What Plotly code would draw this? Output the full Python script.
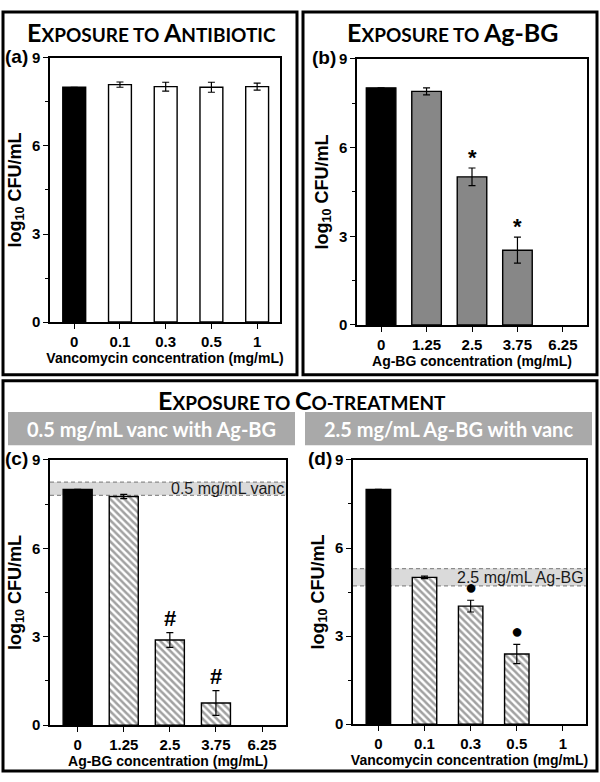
import plotly.graph_objects as go

W, H = 600, 782

# ---- data ----
a_labels = ["0", "0.1", "0.3", "0.5", "1"]
a_vals = [8.0, 8.09, 8.02, 8.0, 8.02]
a_err = [0.0, 0.09, 0.15, 0.17, 0.12]

b_labels = ["0", "1.25", "2.5", "3.75", "6.25"]
b_vals = [8.02, 7.9, 5.01, 2.53, None]
b_err = [0.0, 0.12, 0.3, 0.44, None]
b_marks = ["", "", "*", "*", ""]

c_labels = ["0", "1.25", "2.5", "3.75", "6.25"]
c_vals = [8.0, 7.76, 2.89, 0.75, None]
c_err = [0.0, 0.07, 0.25, 0.42, None]
c_marks = ["", "", "#", "#", ""]
c_band = [7.8, 8.25]
c_band_label = "0.5 mg/mL vanc"

d_labels = ["0", "0.1", "0.3", "0.5", "1"]
d_vals = [8.0, 5.0, 4.02, 2.39, None]
d_err = [0.0, 0.04, 0.2, 0.33, None]
d_marks = ["", "", "●", "●", ""]
d_band = [4.71, 5.3]
d_band_label = "2.5 mg/mL Ag-BG"

y_ticks = [0, 3, 6, 9]

AX_FONT = "Liberation Sans, Arial, sans-serif"
TITLE_FONT = "Lato, Open Sans, sans-serif"


def px_x(v):
    return v / W


def px_y(v):
    return 1 - v / H


def small_caps(parts):
    # fake small caps: big letters at 25px, the rest at 19px
    out = ""
    for text, big in parts:
        size = 25 if big else 19
        out += f"<span style='font-size:{size}px'>{text}</span>"
    return out


fig = go.Figure()

panels = [
    dict(n=1, labels=a_labels, vals=a_vals, errs=a_err, marks=None,
         face="white", hatch=False, xd=[50, 280], yd=[320, 50], xr=[-0.53, 4.5], bw=0.5,
         xtitle="Vancomycin concentration (mg/mL)", tag="(a)"),
    dict(n=2, labels=b_labels, vals=b_vals, errs=b_err, marks=b_marks,
         face="#878787", hatch=False, xd=[357, 587], yd=[323, 51], xr=[-0.53, 4.53], bw=0.65,
         xtitle="Ag-BG concentration (mg/mL)", tag="(b)"),
    dict(n=3, labels=c_labels, vals=c_vals, errs=c_err, marks=c_marks,
         face="white", hatch=True, xd=[50, 286], yd=[732, 461], xr=[-0.6, 4.52], bw=0.63,
         xtitle="Ag-BG concentration (mg/mL)", tag="(c)", band=c_band, band_label=c_band_label),
    dict(n=4, labels=d_labels, vals=d_vals, errs=d_err, marks=d_marks,
         face="white", hatch=True, xd=[353, 586], yd=[731, 461], xr=[-0.55, 4.5], bw=0.53,
         xtitle="Vancomycin concentration (mg/mL)", tag="(d)", band=d_band, band_label=d_band_label),
]

annotations = []
shapes = []

for p in panels:
    n = p["n"]
    xa = "x" if n == 1 else f"x{n}"
    ya = "y" if n == 1 else f"y{n}"
    k = len(p["labels"])
    colors = ["black"] + [p["face"]] * (k - 1)
    pat = [""] + (["\\"] * (k - 1) if p["hatch"] else [""] * (k - 1))

    # reference band drawn under the bars
    if "band" in p:
        lo, hi = p["band"]
        shapes.append(dict(type="rect", xref=f"{xa} domain", yref=ya, x0=0, x1=1, y0=lo, y1=hi,
                           fillcolor="#dadada", line=dict(width=0), layer="below"))
        for yv in (lo, hi):
            shapes.append(dict(type="line", xref=f"{xa} domain", yref=ya, x0=0, x1=1, y0=yv, y1=yv,
                               line=dict(color="#8c8c8c", width=1.2, dash="4px,3px"), layer="below"))
        annotations.append(dict(xref=f"{xa} domain", yref=ya, x=1, y=(lo + hi) / 2,
                                text=p["band_label"], showarrow=False, xanchor="right", yanchor="middle",
                                font=dict(family=AX_FONT, size=16, color="#1a1a1a")))

    fig.add_trace(go.Bar(
        x=p["labels"], y=p["vals"], xaxis=xa, yaxis=ya, width=p["bw"],
        marker=dict(color=colors, line=dict(color="black", width=1.4),
                    pattern=dict(shape=pat, fgcolor="#262626", bgcolor="white",
                                 fillmode="overlay", size=5, solidity=0.5)),
        error_y=dict(type="data", array=p["errs"], visible=True, color="black",
                     thickness=1.2, width=3.5),
        showlegend=False, hoverinfo="skip",
    ))

    if p["marks"]:
        for i, (v, e, m) in enumerate(zip(p["vals"], p["errs"], p["marks"])):
            if m:
                size = 20 if m == "●" else 22
                annotations.append(dict(xref=xa, yref=ya, x=i, y=v + e, text=f"<b>{m}</b>",
                                        showarrow=False, yanchor="bottom",
                                        yshift=-4 if m == "*" else 0,
                                        font=dict(family=AX_FONT, size=size, color="black")))

    xd = [px_x(p["xd"][0]), px_x(p["xd"][1])]
    yd = [px_y(p["yd"][0]), px_y(p["yd"][1])]
    axis_common = dict(showline=True, mirror=True, linecolor="black", linewidth=1.5,
                       ticks="outside", tickcolor="black", tickwidth=1.3, ticklen=5,
                       showgrid=False, zeroline=False,
                       tickfont=dict(family=AX_FONT, size=15, color="black", weight="bold"))
    fig.layout[f"xaxis{'' if n == 1 else n}"] = dict(
        domain=xd, anchor=ya, type="category", categoryorder="array", categoryarray=p["labels"],
        range=p["xr"],
        title=dict(text=p["xtitle"], standoff=1,
                   font=dict(family=AX_FONT, size=14, color="black", weight="bold")),
        **axis_common)
    fig.layout[f"yaxis{'' if n == 1 else n}"] = dict(
        domain=yd, anchor=xa, range=[0, 9], tickvals=y_ticks,
        minor=dict(dtick=1.5, ticks="outside", ticklen=3, tickcolor="black", tickwidth=1.2),
        title=dict(text="log<sub>10</sub> CFU/mL", standoff=6,
                   font=dict(family=AX_FONT, size=18, color="black", weight="bold")),
        **axis_common)

    # panel letter just left of the "9" tick label
    annotations.append(dict(xref="paper", yref="paper", x=px_x(p["xd"][0] - 46), y=yd[1] + 0.002,
                            text=p["tag"], showarrow=False, xanchor="left", yanchor="middle",
                            borderpad=0,
                            font=dict(family=AX_FONT, size=19, color="black", weight="bold")))

# outer frames
for x0, y0, x1, y1 in [(3, 3, 297, 374), (303, 3, 597, 374), (3, 380, 597, 779)]:
    shapes.append(dict(type="rect", xref="paper", yref="paper", x0=px_x(x0), x1=px_x(x1),
                       y0=px_y(y1), y1=px_y(y0), line=dict(color="black", width=3), layer="below"))

# grey sub-headers
for x0, x1, txt in [(8, 295, "0.5 mg/mL vanc with Ag-BG"), (305, 592, "2.5 mg/mL Ag-BG with vanc")]:
    shapes.append(dict(type="rect", xref="paper", yref="paper", x0=px_x(x0), x1=px_x(x1),
                       y0=px_y(446), y1=px_y(412), fillcolor="#a9a9a9", line=dict(width=0),
                       layer="below"))
    annotations.append(dict(xref="paper", yref="paper", x=px_x((x0 + x1) / 2), y=px_y(429.5),
                            text=txt, showarrow=False, xanchor="center", yanchor="middle",
                            font=dict(family=TITLE_FONT, size=20, color="white", weight="bold")))

# section titles in small caps
titles = [
    (151, 23, [("E", True), ("XPOSURE TO ", False), ("A", True), ("NTIBIOTIC", False)]),
    (452, 23, [("E", True), ("XPOSURE TO ", False), ("Ag-BG", True)]),
    (302, 400, [("E", True), ("XPOSURE TO ", False), ("C", True), ("O-TREATMENT", False)]),
]
for cx, cy, parts in titles:
    annotations.append(dict(xref="paper", yref="paper", x=px_x(cx), y=px_y(cy),
                            text=small_caps(parts), showarrow=False, xanchor="center",
                            yanchor="middle",
                            font=dict(family=TITLE_FONT, size=19, color="black", weight="bold")))

fig.update_layout(
    width=W, height=H, margin=dict(l=0, r=0, t=0, b=0),
    paper_bgcolor="white", plot_bgcolor="white",
    showlegend=False,
    shapes=shapes, annotations=annotations,
)

# the page body has a default 8px margin; drop it so the figure sits at the corner
fig.write_html("out.html", config={"displayModeBar": False},
               post_script="document.body.style.margin='0';")
